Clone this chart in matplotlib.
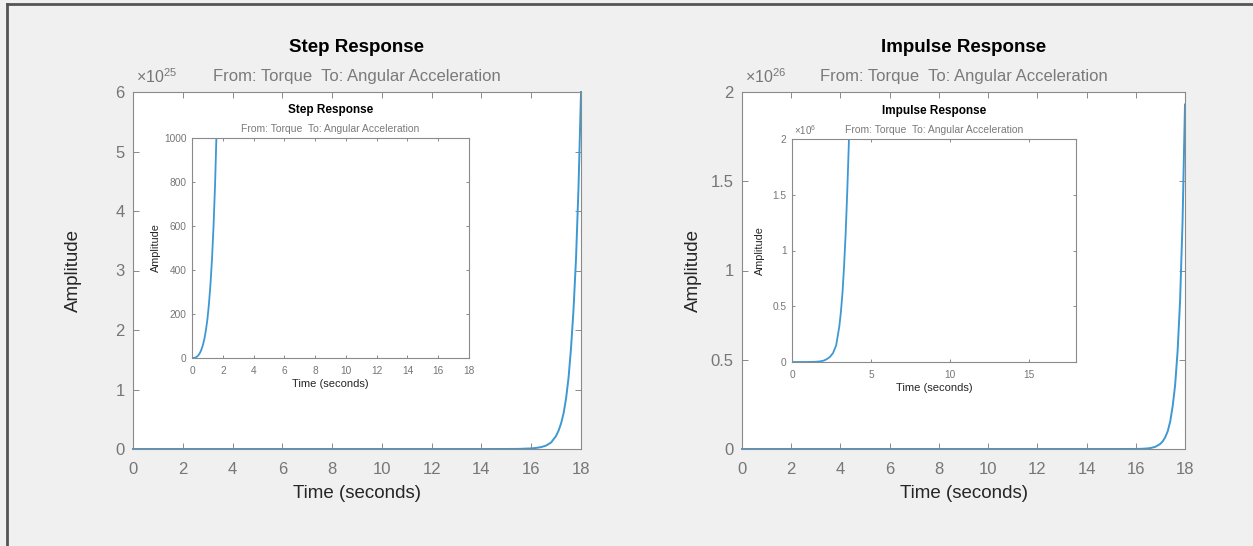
import numpy as np
import matplotlib
matplotlib.use("Agg")
import matplotlib.pyplot as plt
from matplotlib.lines import Line2D

plt.rcParams['font.family'] = ['Liberation Sans', 'DejaVu Sans']
plt.rcParams['mathtext.fontset'] = 'custom'
plt.rcParams['mathtext.rm'] = 'Liberation Sans'

# step response, main plot (amplitude x 1e25)
step_main_t = [0, 2, 4, 6, 8, 10, 12, 14, 15, 15.5, 16, 16.2, 16.4, 16.6, 16.8,
               17.0, 17.1, 17.2, 17.3, 17.4, 17.5, 17.6, 17.7, 17.8, 17.9, 18.0]
step_main_amp = [0, 0, 0, 0, 0, 0, 0, 0.0001, 0.0005, 0.002, 0.01, 0.018, 0.032, 0.058, 0.11,
                 0.22, 0.31, 0.43, 0.6, 0.85, 1.2, 1.7, 2.35, 3.2, 4.4, 6.0]

# impulse response, main plot (amplitude x 1e26)
imp_main_t = step_main_t
imp_main_amp = [0, 0, 0, 0, 0, 0, 0, 0, 0.00002, 0.0001, 0.0004, 0.001, 0.0023, 0.0054, 0.0125,
                0.029, 0.044, 0.067, 0.10, 0.155, 0.24, 0.36, 0.55, 0.83, 1.27, 1.93]

# step response, zoomed inset
step_zoom_t = [0, 0.1, 0.2, 0.3, 0.4, 0.5, 0.6, 0.7, 0.8, 0.9, 1.0, 1.1, 1.2, 1.3, 1.4, 1.5, 1.6]
step_zoom_amp = [0, 0.2, 1.5, 5, 11, 21, 36, 57, 85, 125, 175, 245, 335, 450, 600, 790, 1040]

# impulse response, zoomed inset (amplitude x 1e6)
imp_zoom_t = [0, 0.5, 1.0, 1.5, 1.75, 2.0, 2.2, 2.4, 2.6, 2.8, 3.0, 3.1, 3.2, 3.3, 3.4, 3.5, 3.6, 3.7]
imp_zoom_amp = [0, 0, 0.0002, 0.002, 0.005, 0.012, 0.025, 0.045, 0.08, 0.15, 0.32, 0.45,
                0.62, 0.86, 1.15, 1.52, 1.95, 2.5]

subtitle = "From: Torque  To: Angular Acceleration"

W, H = 1253, 546
BLUE = '#3d98d4'
TICKC = '#767676'
SPINEC = '#8a8a8a'
LABELC = '#262626'
SUBC = '#7a7a7a'


def rect(x0, y0, x1, y1):
    # pixel box (top-left origin) -> figure fraction
    return [x0 / W, 1 - y1 / H, (x1 - x0) / W, (y1 - y0) / H]


def fx(x):
    return x / W


def fy(y):
    return 1 - y / H


fig = plt.figure(figsize=(W / 100, H / 100), dpi=100, facecolor='#f0f0f0')

# outer frame
fig.add_artist(Line2D([fx(7), fx(7)], [fy(545), fy(4)], color='#555555', lw=2))
fig.add_artist(Line2D([fx(7), fx(1252)], [fy(4), fy(4)], color='#555555', lw=2))


def style(ax, tsize, tlen):
    ax.set_facecolor('white')
    for s in ax.spines.values():
        s.set_color(SPINEC)
        s.set_linewidth(0.8)
    ax.tick_params(direction='in', top=True, right=True, length=tlen, width=0.7,
                   color=SPINEC, labelcolor=TICKC, labelsize=tsize, pad=4)


def main_panel(box, t, amp, ymax, yticks, ylabels, exp_txt, title, ylab_x):
    ax = fig.add_axes(rect(*box))
    ax.plot(t, amp, color=BLUE, lw=1.4, clip_on=False)
    ax.set_xlim(0, 18)
    ax.set_ylim(0, ymax)
    ax.set_xticks(range(0, 19, 2))
    ax.set_yticks(yticks)
    ax.set_yticklabels(ylabels)
    style(ax, 12, 4)
    ax.tick_params(axis='x', pad=9)
    ax.tick_params(axis='y', pad=6)
    ax.set_xlabel('Time (seconds)', fontsize=13.5, color=LABELC, labelpad=6)
    x0, y0, x1, y1 = box
    cx = (x0 + x1) / 2
    fig.text(fx(ylab_x), fy((y0 + y1) / 2), 'Amplitude', rotation=90, ha='center',
             va='center', fontsize=13.5, color=LABELC)
    fig.text(fx(cx), fy(48), title, ha='center', va='center', fontsize=13.5,
             fontweight='bold', color='black')
    fig.text(fx(cx), fy(77), subtitle, ha='center', va='center', fontsize=12, color=SUBC)
    fig.text(fx(x0 + 3), fy(77), exp_txt, ha='left', va='center', fontsize=11.5, color=TICKC)
    return ax


def inset_panel(box, t, amp, ymax, yticks, ylabels, xticks, exp_txt, title, ylab_x):
    ax = fig.add_axes(rect(*box))
    ax.plot(t, amp, color=BLUE, lw=1.3)
    ax.set_xlim(0, 18)
    ax.set_ylim(0, ymax)
    ax.set_xticks(xticks)
    ax.set_yticks(yticks)
    ax.set_yticklabels(ylabels)
    style(ax, 7.3, 2.5)
    ax.tick_params(pad=4)
    ax.tick_params(axis='x', pad=6)
    ax.set_xlabel('Time (seconds)', fontsize=8, color=LABELC, labelpad=2)
    x0, y0, x1, y1 = box
    cx = (x0 + x1) / 2
    fig.text(fx(ylab_x), fy((y0 + y1) / 2), 'Amplitude', rotation=90, ha='center',
             va='center', fontsize=7.8, color=LABELC)
    fig.text(fx(cx), fy(y0 - 28), title, ha='center', va='center', fontsize=8.5,
             fontweight='bold', color='black')
    fig.text(fx(cx), fy(y0 - 9), subtitle, ha='center', va='center', fontsize=7.5, color=SUBC)
    if exp_txt:
        fig.text(fx(x0 + 2), fy(y0 - 9), exp_txt, ha='left', va='center', fontsize=7,
                 color=TICKC)
    return ax


main_panel((133, 92, 581, 449), step_main_t, step_main_amp, 6,
           range(0, 7), [str(v) for v in range(0, 7)], r'$\mathregular{\times10^{25}}$',
           'Step Response', 73)
main_panel((742, 92, 1185, 449), imp_main_t, imp_main_amp, 2,
           [0, 0.5, 1, 1.5, 2], ['0', '0.5', '1', '1.5', '2'], r'$\mathregular{\times10^{26}}$',
           'Impulse Response', 693)

inset_panel((192, 138, 469, 358), step_zoom_t, step_zoom_amp, 1000,
            range(0, 1001, 200), [str(v) for v in range(0, 1001, 200)], range(0, 19, 2),
            None, 'Step Response', 156)
inset_panel((792, 139, 1076, 362), imp_zoom_t, imp_zoom_amp, 2,
            [0, 0.5, 1, 1.5, 2], ['0', '0.5', '1', '1.5', '2'], [0, 5, 10, 15],
            r'$\mathregular{\times10^{6}}$', 'Impulse Response', 760)

fig.savefig('out.png', dpi=100, facecolor=fig.get_facecolor())
